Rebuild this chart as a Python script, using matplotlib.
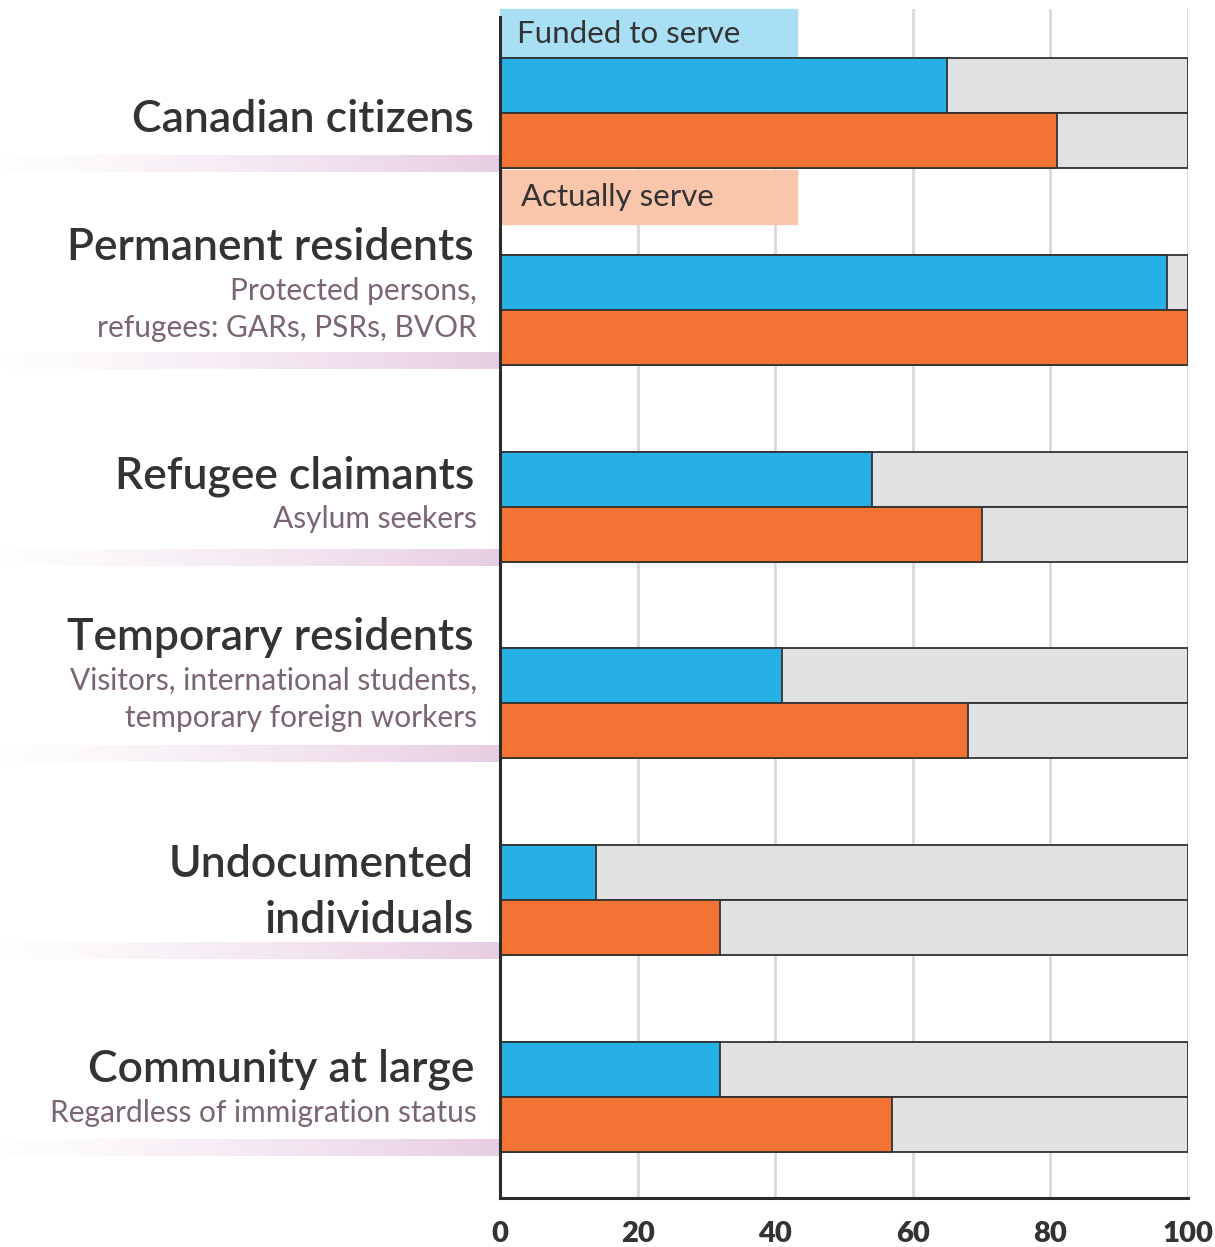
import numpy as np
import matplotlib
matplotlib.use("Agg")
import matplotlib.pyplot as plt
from matplotlib.patches import Rectangle
from matplotlib.transforms import blended_transform_factory

plt.rcParams['font.family'] = ['Lato', 'DejaVu Sans']

titles = [["Canadian citizens"], ["Permanent residents"], ["Refugee claimants"],
          ["Temporary residents"], ["Undocumented", "individuals"],
          ["Community at large"]]
subtitles = [[], ["Protected persons,", "refugees: GARs, PSRs, BVOR"],
             ["Asylum seekers"],
             ["Visitors, international students,", "temporary foreign workers"],
             [], ["Regardless of immigration status"]]
funded = [65, 97, 54, 41, 14, 32]
actual = [81, 100, 70, 68, 32, 57]
xticks = [0, 20, 40, 60, 80, 100]

BLUE = "#27b0e6"
ORANGE = "#f27333"
GREY = "#e0e1e3"
EDGE = "#333333"
TXT = "#333333"
SUB = "#7b6476"

W, H = 1215, 1247
fig = plt.figure(figsize=(W / 100, H / 100), dpi=100)
ax = fig.add_axes([500 / W, (H - 1198) / H, 688 / W, (1198 - 9) / H])

# one group = 196.8 px, bar = 55 px
px = 1 / 196.8
h = 55 * px
y = np.arange(len(titles))

for i in range(len(titles)):
    for yy, v, c in [(y[i] - h / 2, funded[i], BLUE), (y[i] + h / 2, actual[i], ORANGE)]:
        ax.barh(yy, 100, height=h, color=GREY, edgecolor=EDGE, linewidth=1.3, zorder=2)
        ax.barh(yy, v, height=h, color=c, edgecolor=EDGE, linewidth=1.3, zorder=3)

ax.set_xticks(xticks)
ax.set_yticks([])
ax.grid(axis='x', color="#d9d9d9", linewidth=2, zorder=0)
ax.set_axisbelow(True)
ax.tick_params(axis='x', length=0, labelbottom=False)
for s in ['top', 'right']:
    ax.spines[s].set_visible(False)
for s in ['left', 'bottom']:
    ax.spines[s].set_color("#2b2b2b")
    ax.spines[s].set_linewidth(2.2)
    ax.spines[s].set_zorder(5)
ax.spines['left'].set_bounds(-(113 - 17) * px, (1198 - 113) * px)

# bold tick labels
xtr = blended_transform_factory(ax.transData, ax.transAxes)
for t in xticks:
    ax.text(t, -33 / 1189, str(t), transform=xtr, ha='center',
            va='center_baseline', fontsize=21, fontweight='heavy', color=TXT)

# legend boxes
ax.add_patch(Rectangle((0, -h - 49 * px), 43.2, 49 * px, color="#a8dff5",
                       zorder=1, clip_on=False))
ax.text(2.5, -h - 24 * px, "Funded to serve", fontsize=22.5, color=TXT,
        va='center', zorder=4)
ax.add_patch(Rectangle((0, h + 2 * px), 43.2, 54 * px, color="#f9c6ac", zorder=1))
ax.text(3.0, h + 29 * px, "Actually serve", fontsize=22.5, color=TXT,
        va='center', zorder=4)

# pink fading bands under the labels
grad = np.ones((1, 256, 4))
grad[0, :, :3] = np.array([232, 205, 227]) / 255
grad[0, :, 3] = np.linspace(0.05, 1, 256) ** 1.3
for i in range(len(titles)):
    ax.imshow(grad, extent=(-500 / 6.88, 0, y[i] + 59 * px, y[i] + 42 * px),
              aspect='auto', clip_on=False, zorder=1)
ax.set_xlim(0, 100)
ax.set_ylim((1198 - 113) * px, -(113 - 9) * px)

# category labels, stacked upward from the last line
tr = blended_transform_factory(fig.transFigure, ax.transData)
bottom_off = [3, 16, 10, 12, 16, 13]
for i in range(len(titles)):
    lines = [(t, 'main') for t in titles[i]] + [(s, 'sub') for s in subtitles[i]]
    base = y[i] + bottom_off[i] * px
    prev = None
    for t, kind in reversed(lines):
        if prev is not None:
            if prev == 'sub' and kind == 'sub':
                base -= 37 * px
            elif kind == 'main' and prev == 'sub':
                base -= 45 * px
            else:
                base -= 56 * px
        prev = kind
        if kind == 'main':
            ax.text(474 / W, base, t, transform=tr, ha='right',
                    va='center_baseline', fontsize=32, fontweight='semibold',
                    color=TXT)
        else:
            ax.text(477 / W, base, t, transform=tr, ha='right',
                    va='center_baseline', fontsize=21.5, color=SUB)

fig.savefig("out.png", dpi=100)
